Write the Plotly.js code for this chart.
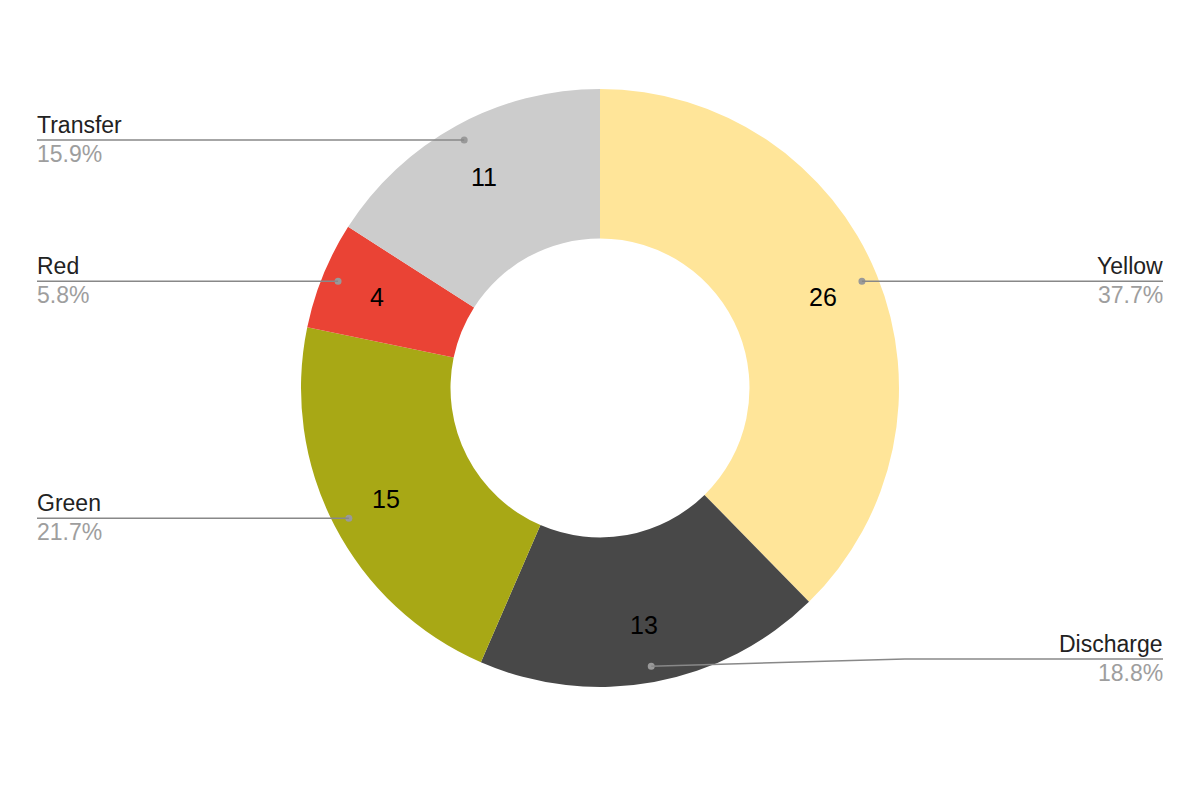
<!DOCTYPE html>
<html>
<head>
<meta charset="utf-8">
<script src="https://cdn.plot.ly/plotly-3.0.1.min.js"></script>
<style>html,body{margin:0;padding:0;background:#fff;}#chart{width:1200px;height:800px;}</style>
</head>
<body>
<div id="chart"></div>
<script>
const categories = ["Yellow", "Discharge", "Green", "Red", "Transfer"];
const values = [26, 13, 15, 4, 11];
const colors = ["#FFE599", "#484848", "#A8A815", "#EA4335", "#CCCCCC"];

const W = 1200, H = 800;
const domX = [301 / W, 899 / W];
const domY = [113 / H, 711 / H];

// geometry derived from the domain
const cx = (domX[0] + domX[1]) / 2 * W;
const cy = (1 - (domY[0] + domY[1]) / 2) * H;
const R = Math.min((domX[1] - domX[0]) * W, (domY[1] - domY[0]) * H) / 2;

const px = x => x / W;
const py = y => 1 - y / H;

const FONT = "Liberation Sans, Arial, sans-serif";
const total = values.reduce((a, b) => a + b, 0);
const annotations = [];
const shapes = [];
let cum = 0;
const leftX = 37, rightX = 1163, maxLineY = 659;
values.forEach((v, i) => {
  const mid = (cum + v / 2) / total * 2 * Math.PI;
  cum += v;
  const s = Math.sin(mid), c = Math.cos(mid);
  // value inside ring
  const rv = 0.805 * R;
  annotations.push({
    x: px(cx + rv * s), y: py(cy - rv * c), xref: "paper", yref: "paper",
    text: String(v), showarrow: false, xanchor: "center", yanchor: "middle",
    font: {family: FONT, size: 25, color: "#000"}
  });
  // leader dot
  const rd = 0.946 * R;
  const dx = cx + rd * s, dy = cy - rd * c;
  const right = s >= 0;
  const lx = right ? rightX : leftX;
  const ly = Math.min(dy, maxLineY);
  shapes.push({type: "circle", xref: "paper", yref: "paper",
    x0: px(dx - 3.5), x1: px(dx + 3.5), y0: py(dy - 3.5), y1: py(dy + 3.5),
    fillcolor: "#999999", line: {width: 0}});
  if (ly < dy) {
    const kx = right ? lx - 258 : lx + 258;
    shapes.push({type: "line", xref: "paper", yref: "paper",
      x0: px(dx), y0: py(dy), x1: px(kx), y1: py(ly), line: {color: "#888888", width: 1.5}});
    shapes.push({type: "line", xref: "paper", yref: "paper",
      x0: px(kx), y0: py(ly), x1: px(lx), y1: py(ly), line: {color: "#888888", width: 1.5}});
  } else {
    shapes.push({type: "line", xref: "paper", yref: "paper",
      x0: px(dx), y0: py(dy), x1: px(lx), y1: py(ly), line: {color: "#888888", width: 1.5}});
  }
  const pct = (v / total * 100).toFixed(1) + "%";
  annotations.push({
    x: px(lx), y: py(ly - 15), xref: "paper", yref: "paper",
    text: categories[i], showarrow: false, xanchor: right ? "right" : "left", yanchor: "middle",
    xshift: right ? 2 : -2,
    font: {family: FONT, size: 23, color: "#222222"}
  });
  annotations.push({
    x: px(lx), y: py(ly + 14), xref: "paper", yref: "paper",
    text: pct, showarrow: false, xanchor: right ? "right" : "left", yanchor: "middle",
    xshift: right ? 2 : -2,
    font: {family: FONT, size: 23, color: "#9E9E9E"}
  });
});

const data = [{
  type: "pie",
  labels: categories,
  values: values,
  marker: {colors: colors, line: {width: 0}},
  hole: 0.5,
  sort: false,
  direction: "clockwise",
  rotation: 0,
  textinfo: "none",
  hoverinfo: "label+value+percent",
  domain: {x: domX, y: domY},
  showlegend: false
}];

const layout = {
  width: W, height: H,
  margin: {l: 0, r: 0, t: 0, b: 0},
  paper_bgcolor: "#ffffff",
  showlegend: false,
  annotations: annotations,
  shapes: shapes
};

Plotly.newPlot("chart", data, layout, {displayModeBar: false, staticPlot: true});
</script>
</body>
</html>
